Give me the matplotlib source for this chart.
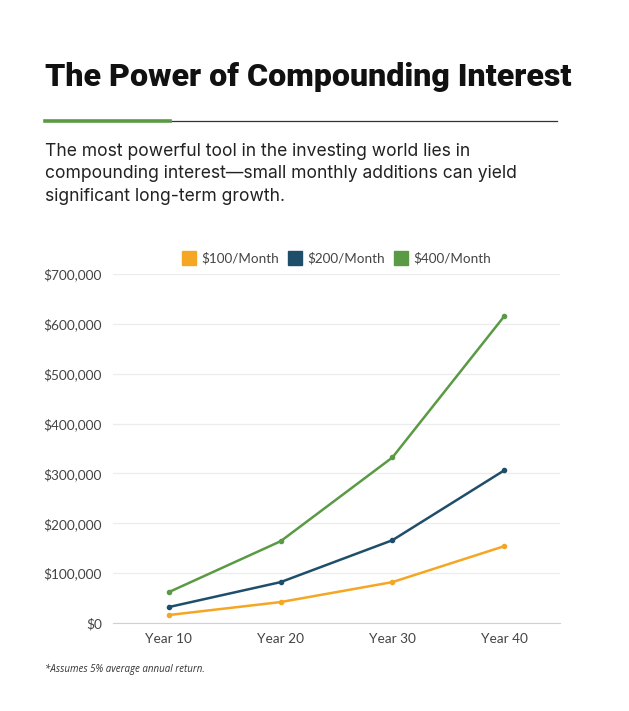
import matplotlib.pyplot as plt
from matplotlib.lines import Line2D
from matplotlib.patches import Rectangle

years = ['Year 10', 'Year 20', 'Year 30', 'Year 40']
series_names = ['$100/Month', '$200/Month', '$400/Month']
m100 = [16000, 42000, 82000, 154000]
m200 = [32000, 82000, 166000, 306000]
m400 = [62000, 164000, 332000, 615000]
colors = ['#f5a623', '#1f4e6b', '#5b9a45']
yticks = [0, 100000, 200000, 300000, 400000, 500000, 600000, 700000]

W, H = 629, 711
fig = plt.figure(figsize=(W / 100, H / 100), dpi=100)

def fx(px):
    return px / W

def fy(py):
    return 1 - py / H

# header - no condensed face available, so fit Roboto to the reference width
t = fig.text(fx(45), fy(77), 'The Power of Compounding Interest', fontsize=27,
             fontweight='black', family='Roboto',
             color='#111111', va='center', ha='left')
fig.canvas.draw()
bb = t.get_window_extent()
t.set_fontsize(27 * 525 / bb.width)

fig.add_artist(Line2D([fx(170), fx(557)], [fy(121), fy(121)], color='#333333', lw=0.9))
fig.add_artist(Line2D([fx(45), fx(170)], [fy(121), fy(121)], color='#5b9a45', lw=2.6))

body = ('The most powerful tool in the investing world lies in\n'
        'compounding interest\u2014small monthly additions can yield\n'
        'significant long-term growth.')
fig.text(fx(45), fy(143), body, fontsize=12.6, family='Inter', color='#222222',
         va='top', ha='left', linespacing=1.42)

# chart
ax = fig.add_axes([fx(113), fy(623), fx(560 - 113), (623 - 274) / H])
x = range(len(years))
for vals, c in zip((m100, m200, m400), colors):
    ax.plot(x, vals, color=c, lw=1.8, marker='o', markersize=3, zorder=3)

ax.set_xlim(-0.5, len(years) - 0.5)
ax.set_ylim(0, 700000)
ax.set_yticks(yticks)
ax.set_yticklabels(['${:,}'.format(v) for v in yticks])
ax.set_xticks(list(x))
ax.set_xticklabels(years)
ax.grid(axis='y', color='#ececec', lw=0.9)
ax.set_axisbelow(True)
for s in ('top', 'right', 'left'):
    ax.spines[s].set_visible(False)
ax.spines['bottom'].set_color('#d0d0d0')
ax.tick_params(axis='y', length=0, pad=8, labelsize=9.8, labelcolor='#444444')
ax.tick_params(axis='x', length=0, pad=7, labelsize=9.8, labelcolor='#444444')
for lab in ax.get_xticklabels() + ax.get_yticklabels():
    lab.set_family('Lato')

# legend
leg_x = [182, 288, 394]
for lx, name, c in zip(leg_x, series_names, colors):
    fig.add_artist(Rectangle((fx(lx), fy(265)), 14 / W, 14 / H, color=c,
                             transform=fig.transFigure))
    fig.text(fx(lx + 19), fy(258), name, fontsize=9.7, family='Lato',
             color='#444444', va='center', ha='left')

fig.text(fx(45), fy(669), '*Assumes 5% average annual return.', fontsize=7,
         family='Open Sans', style='italic', color='#333333', va='center', ha='left')

fig.savefig('out.png', dpi=100, facecolor='white')
